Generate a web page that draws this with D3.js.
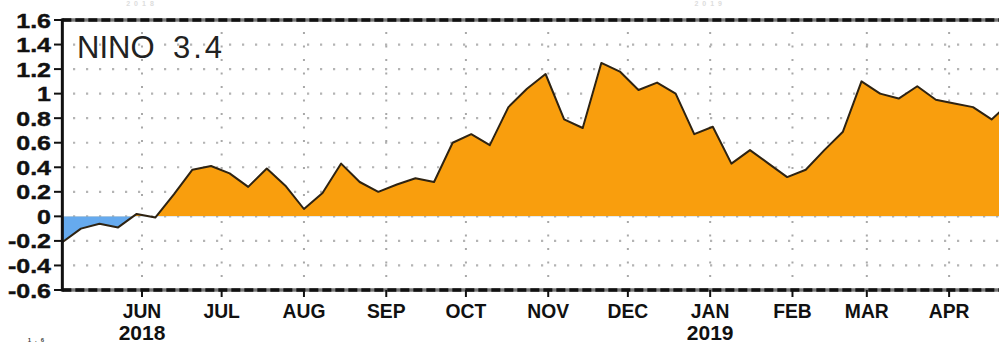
<!DOCTYPE html>
<html>
<head>
<meta charset="utf-8">
<script src="https://cdn.jsdelivr.net/npm/d3@7"></script>
<style>
html,body{margin:0;padding:0;background:#fff;overflow:hidden;}
svg{display:block;}
</style>
</head>
<body>
<svg id="chart" width="999" height="343"></svg>
<script>
// ---- data ----
const weekDates = [
 "2018-05-02","2018-05-09","2018-05-16","2018-05-23","2018-05-30",
 "2018-06-06","2018-06-13","2018-06-20","2018-06-27",
 "2018-07-04","2018-07-11","2018-07-18","2018-07-25",
 "2018-08-01","2018-08-08","2018-08-15","2018-08-22","2018-08-29",
 "2018-09-05","2018-09-12","2018-09-19","2018-09-26",
 "2018-10-03","2018-10-10","2018-10-17","2018-10-24","2018-10-31",
 "2018-11-07","2018-11-14","2018-11-21","2018-11-28",
 "2018-12-05","2018-12-12","2018-12-19","2018-12-26",
 "2019-01-02","2019-01-09","2019-01-16","2019-01-23","2019-01-30",
 "2019-02-06","2019-02-13","2019-02-20","2019-02-27",
 "2019-03-06","2019-03-13","2019-03-20","2019-03-27",
 "2019-04-03","2019-04-10","2019-04-17","2019-04-24"
];
const nino34 = [
 -0.21,-0.10,-0.06,-0.09,0.02,
 -0.01,0.18,0.38,0.41,
 0.35,0.24,0.39,0.25,
 0.06,0.19,0.43,0.28,0.20,
 0.26,0.31,0.28,0.60,
 0.67,0.58,0.89,1.04,1.16,
 0.79,0.72,1.25,1.18,
 1.03,1.09,1.00,0.67,
 0.73,0.43,0.54,0.43,0.32,
 0.38,0.54,0.69,1.10,
 1.00,0.96,1.06,0.95,
 0.92,0.89,0.79,0.93
];
const monthTicks = ["2018-06-01","2018-07-01","2018-08-01","2018-09-01","2018-10-01","2018-11-01","2018-12-01","2019-01-01","2019-02-01","2019-03-01","2019-04-01"];
const monthLabels = ["JUN","JUL","AUG","SEP","OCT","NOV","DEC","JAN","FEB","MAR","APR"];
const yearTicks = ["2018-06-01","2019-01-01"];
const yearLabels = ["2018","2019"];
const yTicks = [1.6,1.4,1.2,1,0.8,0.6,0.4,0.2,0,-0.2,-0.4,-0.6];
const yTickLabels = ["1.6","1.4","1.2","1","0.8","0.6","0.4","0.2","0","-0.2","-0.4","-0.6"];
const title = ["NINO", "3.4"];

// ---- layout ----
const parse = d3.utcParse("%Y-%m-%d");
const L = 62.35, T = 20, B = 290, R = 999;
const pxPerDay = 2.655;
const d0 = parse(weekDates[0]), d1 = parse(weekDates[weekDates.length-1]);
const x = d3.scaleUtc().domain([d0, d1]).range([L, L + (d1 - d0) / 864e5 * pxPerDay]);
const y = d3.scaleLinear().domain([-0.6, 1.6]).range([B, T]);

const data = weekDates.map((d, i) => ({date: parse(d), v: nino34[i]}));
const svg = d3.select("#chart");
const defs = svg.append("defs");
defs.append("clipPath").attr("id","plot").append("rect")
  .attr("x", L).attr("y", T).attr("width", R - L).attr("height", B - T);
defs.append("clipPath").attr("id","pos").append("rect")
  .attr("x", L).attr("y", T).attr("width", R - L).attr("height", y(0) - T);
defs.append("clipPath").attr("id","neg").append("rect")
  .attr("x", L).attr("y", y(0)).attr("width", R - L).attr("height", B - y(0));

// faint fragments of neighbouring panels (kept small so they stay inside the picture)
svg.append("g").selectAll("text").data(yearTicks).join("text")
  .attr("x", d => x(parse(d))).attr("y", 6)
  .attr("text-anchor","middle").attr("font-family","Liberation Sans, Arial, sans-serif")
  .attr("font-weight","bold").attr("font-size",7).attr("letter-spacing",4).attr("fill","#ddd")
  .text((d,i) => yearLabels[i]);
svg.append("text").attr("x", 48).attr("y", 342)
  .attr("text-anchor","end").attr("font-family","Liberation Sans, Arial, sans-serif")
  .attr("font-weight","bold").attr("font-size",6).attr("letter-spacing",4).attr("fill","#444").text("1.6");

// grid
const grid = svg.append("g").attr("clip-path","url(#plot)");
grid.selectAll("line.h").data(yTicks.filter(v => v > -0.6 && v < 1.6)).join("line")
  .attr("x1", 73).attr("x2", R).attr("y1", d => y(d)).attr("y2", d => y(d))
  .attr("stroke","#b4b4b4").attr("stroke-width",2.2).attr("stroke-dasharray","2.2,10.8");
grid.selectAll("line.v").data(monthTicks).join("line")
  .attr("x1", d => x(parse(d))).attr("x2", d => x(parse(d)))
  .attr("y1", 32).attr("y2", B)
  .attr("stroke","#a8a8a8").attr("stroke-width",2).attr("stroke-dasharray","2,11.5");

// areas
const area = d3.area().x(d => x(d.date)).y0(y(0)).y1(d => y(d.v));
const plot = svg.append("g").attr("clip-path","url(#plot)");
plot.append("path").datum(data).attr("d", area).attr("fill","#f99e0d").attr("clip-path","url(#pos)");
plot.append("path").datum(data).attr("d", area).attr("fill","#66aaee").attr("clip-path","url(#neg)");
plot.append("path").datum(data)
  .attr("d", d3.line().x(d => x(d.date)).y(d => y(d.v)))
  .attr("fill","none").attr("stroke","#2e2312").attr("stroke-width",2).attr("stroke-linejoin","round");

// frame
svg.append("line").attr("x1",L).attr("x2",R).attr("y1",T).attr("y2",T).attr("stroke","#777").attr("stroke-width",3.5);
svg.append("line").attr("x1",L).attr("x2",R).attr("y1",T).attr("y2",T).attr("stroke","#111").attr("stroke-width",3.5).attr("stroke-dasharray","9,4");
svg.append("line").attr("x1",L).attr("x2",R).attr("y1",B).attr("y2",B).attr("stroke","#777").attr("stroke-width",3.5);
svg.append("line").attr("x1",L).attr("x2",R).attr("y1",B).attr("y2",B).attr("stroke","#111").attr("stroke-width",3.5).attr("stroke-dasharray","9,4");
svg.append("line").attr("x1",L).attr("x2",L).attr("y1",T-1.5).attr("y2",B+1.5).attr("stroke","#111").attr("stroke-width",3);

// y axis ticks and labels
const ya = svg.append("g");
ya.selectAll("line").data(yTicks).join("line")
  .attr("x1", 54).attr("x2", L).attr("y1", d => y(d)).attr("y2", d => y(d))
  .attr("stroke","#111").attr("stroke-width",2);
ya.selectAll("text").data(yTicks).join("text")
  .attr("transform", d => `translate(51,${y(d) + 7.5}) scale(1.25,1)`)
  .attr("text-anchor","end").attr("font-family","Liberation Sans, Arial, sans-serif")
  .attr("font-weight","bold").attr("font-size",20).attr("fill","#111")
  .attr("stroke","#111").attr("stroke-width",0.4)
  .text((d,i) => yTickLabels[i]);

// x axis ticks and labels
const xa = svg.append("g");
xa.selectAll("line").data(monthTicks).join("line")
  .attr("x1", d => x(parse(d))).attr("x2", d => x(parse(d)))
  .attr("y1", B).attr("y2", B + 7).attr("stroke","#111").attr("stroke-width",2);
xa.selectAll("text.m").data(monthTicks).join("text")
  .attr("transform", d => `translate(${x(parse(d))},318) scale(0.92,1)`)
  .attr("text-anchor","middle").attr("font-family","Liberation Sans, Arial, sans-serif")
  .attr("font-weight","bold").attr("font-size",21).attr("fill","#111")
  .text((d,i) => monthLabels[i]);
xa.selectAll("text.y").data(yearTicks).join("text")
  .attr("x", d => x(parse(d))).attr("y", 340)
  .attr("text-anchor","middle").attr("font-family","Liberation Sans, Arial, sans-serif")
  .attr("font-weight","bold").attr("font-size",21).attr("fill","#111")
  .text((d,i) => yearLabels[i]);

// title
const t = svg.append("text").attr("y", 58).attr("font-family","Liberation Sans, Arial, sans-serif")
  .attr("font-size",31).attr("fill","#222");
t.append("tspan").attr("x", 77).text(title[0]);
t.append("tspan").attr("x", 173).attr("letter-spacing", 3).text(title[1]);
</script>
</body>
</html>
